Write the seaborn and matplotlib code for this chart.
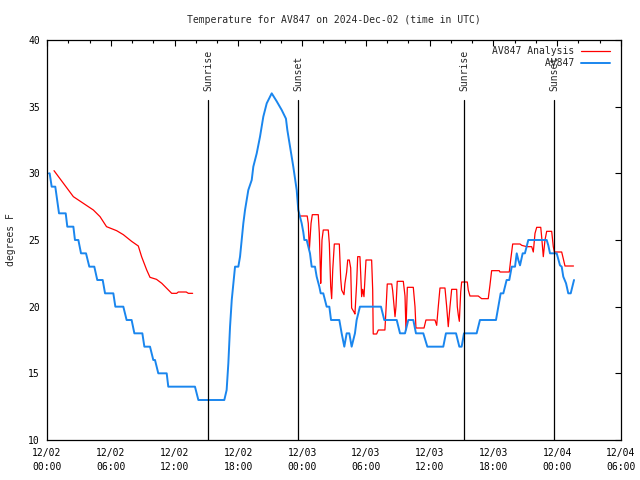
import numpy as np
import pandas as pd
import matplotlib
matplotlib.use("Agg")
import matplotlib.pyplot as plt
import matplotlib.transforms as mtransforms
from matplotlib.lines import Line2D
import seaborn as sns

# ---------------- data (hours since 2024-12-02 00:00 UTC) ----------------
obs_hours = [0.19, 0.25, 0.44, 0.78, 1.13, 1.76, 1.91, 2.48, 2.63, 2.95, 3.20, 3.67,
             3.98, 4.45, 4.73, 5.24, 5.46, 6.24, 6.43, 7.18, 7.49, 7.96, 8.22, 8.97,
             9.16, 9.69, 10.00, 10.16, 10.47, 11.26, 11.41, 13.92, 14.24, 16.68,
             16.90, 17.06, 17.22, 17.38, 17.47, 17.69, 18.00, 18.16, 18.47, 18.63,
             18.94, 19.26, 19.41, 19.73, 20.04, 20.35, 20.67, 21.14, 21.61, 22.08,
             22.48, 22.61, 22.86, 23.17, 23.49, 23.64, 23.80, 23.96, 24.11, 24.21,
             24.43, 24.58, 24.74, 24.90, 25.21, 25.37, 25.62, 25.75, 25.99, 26.15,
             26.31, 26.56, 26.72, 27.50, 27.72, 27.97, 28.19, 28.44, 28.66, 28.97,
             29.13, 29.44, 31.42, 31.73, 32.90, 33.21, 33.68, 33.99, 34.46, 34.71,
             35.40, 35.78, 37.28, 37.53, 38.48, 38.79, 39.01, 39.23, 40.42, 40.73,
             42.24, 42.46, 42.68, 42.93, 43.24, 43.49, 43.72, 44.03, 44.19, 44.34,
             44.50, 44.75, 44.96, 45.12, 45.28, 47.01, 47.16, 47.32, 47.95, 48.26,
             48.42, 48.57, 48.83, 49.04, 49.27, 49.45, 49.58]
obs_temps = [30, 30, 29, 29, 27, 27, 26, 26, 25, 25, 24, 24,
             23, 23, 22, 22, 21, 21, 20, 20, 19, 19, 18, 18,
             17, 17, 16, 16, 15, 15, 14, 14, 13, 13,
             13.75, 15.75, 18.5, 20.5, 21.25, 23, 23, 23.75, 26.25, 27.25,
             28.75, 29.5, 30.5, 31.5, 32.75, 34.25, 35.25, 36.0, 35.4, 34.75,
             34.1, 33.25, 32, 30.5, 28.75, 27.25, 26.75, 26.25, 25.6, 25,
             25, 24.5, 24, 23, 23, 22.25, 21.5, 21, 21, 20.5,
             20, 20, 19, 19, 18, 17, 18, 18, 17, 18,
             19, 20, 20, 19, 19, 18, 18, 19, 19, 18,
             18, 17, 17, 18, 18, 17, 17, 18, 18, 19,
             19, 20, 21, 21, 22, 22, 23, 23, 24, 23.5,
             23.1, 24, 24, 24.5, 25, 25, 24.6, 24, 24, 23.1,
             23, 22.25, 21.75, 21, 21, 21.6, 22]

ana1_hours = [0.66, 2.48, 3.42, 4.36, 4.99, 5.60, 6.55, 7.18, 7.96, 8.59, 8.90,
              9.38, 9.69, 10.30, 10.80, 11.73, 12.20, 12.35, 13.10, 13.30, 13.70]
ana1_temps = [30.2, 28.25, 27.75, 27.25, 26.75, 26.0, 25.7, 25.4, 24.9, 24.55, 23.75,
              22.75, 22.2, 22.05, 21.75, 21.0, 21.0, 21.1, 21.1, 21.0, 21.0]

ana2_hours = [23.80, 24.48, 24.58, 24.68, 24.84, 24.96, 25.52, 25.62, 25.75, 25.80,
              25.87, 25.99, 26.46, 26.56, 26.69, 26.78, 26.88, 27.03, 27.50, 27.63,
              27.72, 27.94, 28.03, 28.19, 28.29, 28.44, 28.57, 28.66, 28.88, 28.97,
              29.13, 29.23, 29.44, 29.51, 29.60, 29.70, 29.82, 30.01, 30.54, 30.64,
              30.69, 31.01, 31.17, 31.79, 31.89, 32.01, 32.43, 32.52, 32.74, 32.83,
              32.95, 33.52, 33.68, 33.77, 33.90, 34.46, 34.62, 34.71, 35.47, 35.65,
              36.50, 36.66, 36.81, 36.97, 37.44, 37.60, 37.75, 37.91, 38.07, 38.54,
              38.60, 38.69, 38.79, 38.92, 39.01, 39.54, 39.63, 39.79, 40.57, 40.89,
              41.51, 41.67, 41.83, 42.55, 42.61, 43.49, 43.62, 43.81, 44.50, 44.66,
              45.13, 45.60, 45.75, 45.91, 46.07, 46.45, 46.54, 46.69, 46.85, 47.01,
              47.48, 47.63, 47.73, 48.42, 48.57, 48.73, 49.53]
ana2_temps = [26.8, 26.8, 26.25, 24.25, 26.25, 26.9, 26.9, 25.5, 21.75, 23,
              25, 25.75, 25.75, 24.75, 21.5, 20.6, 22.75, 24.7, 24.7, 22.1,
              21.25, 20.9, 21.75, 22.6, 23.5, 23.5, 22.9, 19.9, 19.6, 19.45,
              21.75, 23.75, 23.75, 22.5, 20.75, 21.3, 20.75, 23.5, 23.5, 21.25,
              17.95, 17.95, 18.25, 18.25, 19.75, 21.7, 21.7, 21.2, 19.25, 20,
              21.9, 21.9, 20.8, 18.25, 21.45, 21.45, 20, 18.4, 18.4, 19,
              19, 18.6, 20, 21.4, 21.4, 20, 18.5, 20, 21.3, 21.3,
              20, 19.4, 18.9, 21.1, 21.85, 21.85, 21.25, 20.8, 20.8, 20.6,
              20.6, 21.6, 22.7, 22.7, 22.6, 22.6, 23.5, 24.7, 24.7, 24.6,
              24.5, 24.5, 24.1, 25.5, 25.95, 25.95, 25.2, 23.75, 25, 25.65,
              25.65, 24.5, 24.1, 24.1, 23.6, 23.05, 23.05]

event_hours = [15.15, 23.64, 39.23, 47.72]
event_labels = ["Sunrise", "Sunset", "Sunrise", "Sunset"]

xtick_hours = [0, 6, 12, 18, 24, 30, 36, 42, 48, 54]
xtick_labels = ["12/02\n00:00", "12/02\n06:00", "12/02\n12:00", "12/02\n18:00",
                "12/03\n00:00", "12/03\n06:00", "12/03\n12:00", "12/03\n18:00",
                "12/04\n00:00", "12/04\n06:00"]
ytick_values = [10, 15, 20, 25, 30, 35, 40]

title = "Temperature for AV847 on 2024-Dec-02 (time in UTC)"
ylabel = "degrees F"
label_analysis = "AV847 Analysis"
label_obs = "AV847"

# ---------------- style ----------------
sns.set_theme(style="white")
plt.rcParams["font.family"] = ["DejaVu Sans Mono", "DejaVu Sans"]
plt.rcParams["font.size"] = 7

RED = "#ff0000"
BLUE = "#1a86ee"

fig = plt.figure(figsize=(6.4, 4.8), dpi=100)
ax = fig.add_axes([47 / 640, 40 / 480, 574 / 640, 400 / 480])

ana_df = pd.DataFrame({
    "hour": ana1_hours + ana2_hours,
    "temp": ana1_temps + ana2_temps,
    "seg": [1] * len(ana1_hours) + [2] * len(ana2_hours),
})
obs_df = pd.DataFrame({"hour": obs_hours, "temp": obs_temps})

sns.lineplot(data=ana_df, x="hour", y="temp", units="seg", estimator=None,
             sort=False, color=RED, lw=0.9, ax=ax)
sns.lineplot(data=obs_df, x="hour", y="temp", sort=False, color=BLUE, lw=1.4, ax=ax)

# sunrise / sunset markers
trans = mtransforms.blended_transform_factory(ax.transData, ax.transAxes)
for h, lab in zip(event_hours, event_labels):
    ax.axvline(h, ymin=0, ymax=0.85, color="black", lw=0.9)
    ax.text(h, 0.872, lab, transform=trans, rotation=90, ha="center",
            va="bottom", fontsize=7)

ax.set_xlim(0, 54)
ax.set_ylim(10, 40)
ax.set_xticks(xtick_hours)
ax.set_xticklabels(xtick_labels, linespacing=1.4)
ax.set_xticks(np.arange(0, 55, 2), minor=True)
ax.set_yticks(ytick_values)
ax.set_yticklabels([str(v) for v in ytick_values])

ax.tick_params(axis="both", which="both", direction="in", top=True, right=True,
               colors="black", labelsize=7, width=0.8)
ax.tick_params(axis="both", which="major", length=4)
ax.tick_params(axis="both", which="minor", length=2)
ax.tick_params(axis="x", which="major", pad=6)
ax.tick_params(axis="y", which="major", pad=5)

for s in ax.spines.values():
    s.set_color("black")
    s.set_linewidth(0.9)
    s.set_visible(True)

ax.set_xlabel("")
ax.set_ylabel(ylabel, fontsize=7, labelpad=9)
ax.set_title(title, fontsize=7, pad=12)

# legend (text right-aligned, sample line on the right)
handles = [Line2D([], [], color=RED, lw=0.9), Line2D([], [], color=BLUE, lw=1.4)]
n = max(len(label_analysis), len(label_obs))
labels = [label_analysis.rjust(n), label_obs.rjust(n)]
ax.legend(handles, labels, loc="upper right", bbox_to_anchor=(0.981, 0.985),
          frameon=False, markerfirst=False, borderaxespad=0, borderpad=0,
          handlelength=3.0, handletextpad=0.7, labelspacing=0.2, fontsize=7)

fig.savefig("out.png", dpi=100)
